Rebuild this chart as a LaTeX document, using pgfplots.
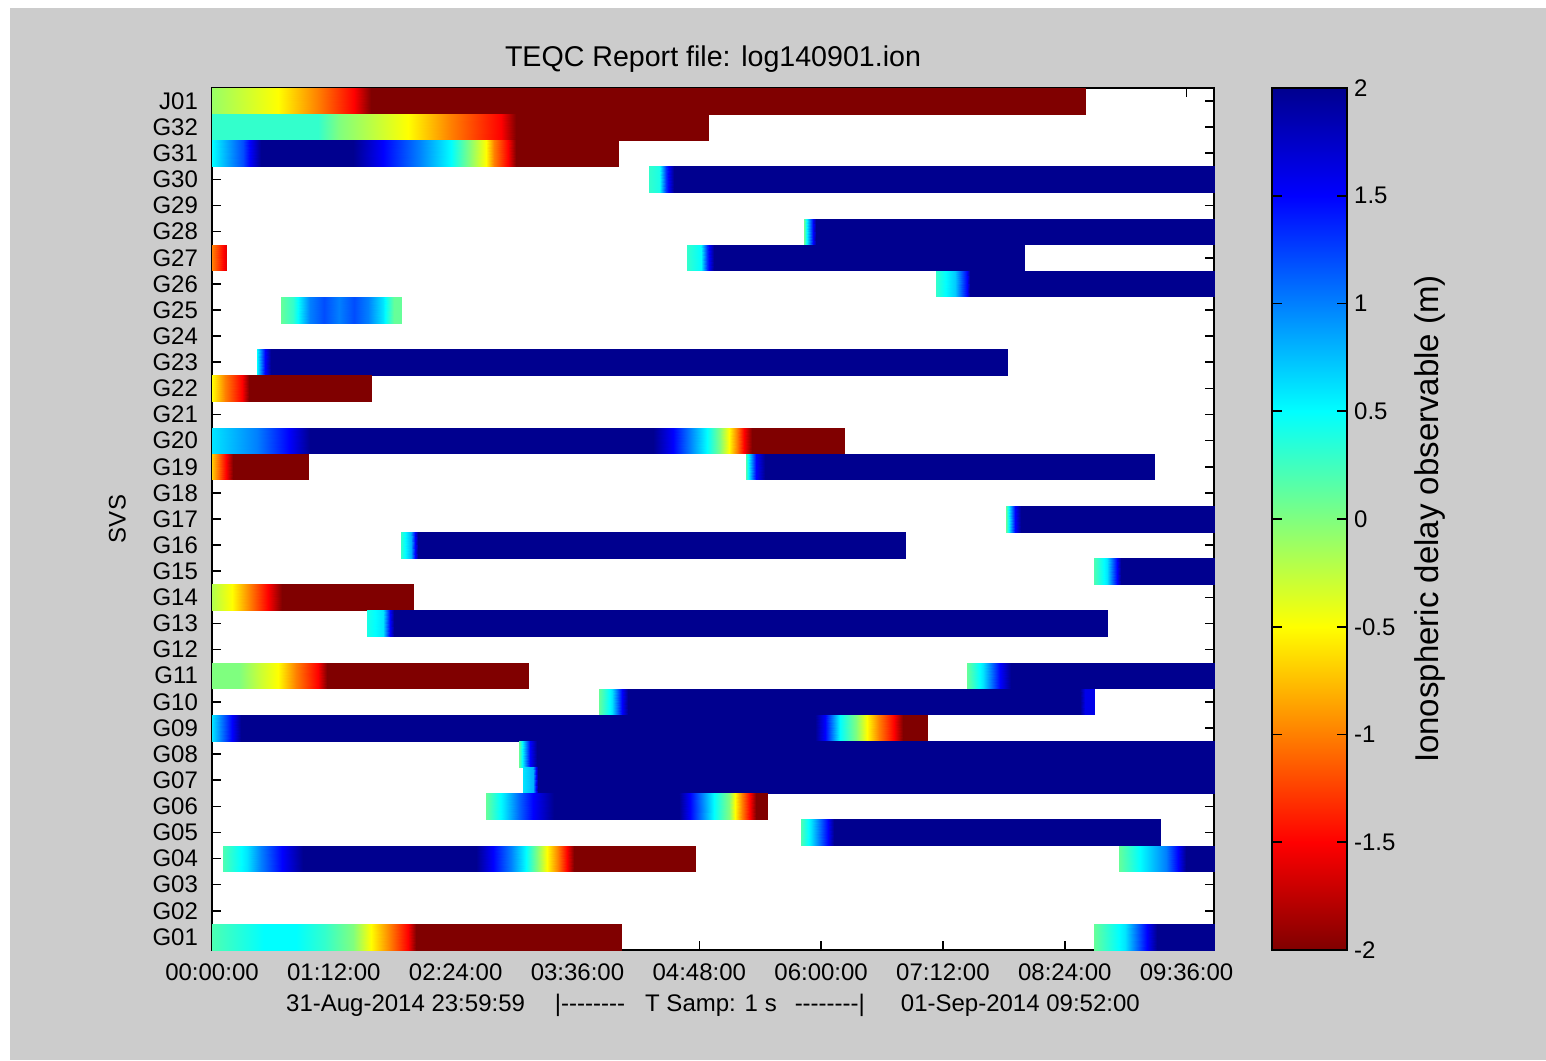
\documentclass[border=0pt]{standalone}
\usepackage{fontspec}
\setmainfont{Liberation Sans}
\usepackage{pgfplots}
\pgfplotsset{compat=1.18}
\definecolor{bggray}{RGB}{204,204,204}
\pgfplotsset{seg/.style={surf, shader=interp, mesh/rows=2, point meta=explicit}}
\newcommand\hy{\mbox{-}}
\begin{document}
\begin{tikzpicture}
\useasboundingbox (0,0) rectangle (773pt,530pt);
\fill[white] (0,0) rectangle (773pt,530pt);
\fill[bggray] (5pt,0) rectangle (773pt,526pt);
\begin{axis}[
  at={(106pt,55pt)}, anchor=south west,
  scale only axis, width=501pt, height=431pt,
  xmin=0, xmax=9.87, ymin=0.5, ymax=33.5,
  axis background/.style={fill=white},
  axis line style={black, line width=0.8pt},
  tick align=inside, major tick length=4.5pt,
  tick style={black, line width=0.8pt},
  xtick={0,1.2,2.4,3.6,4.8,6,7.2,8.4,9.6},
  xticklabels={00:00:00,01:12:00,02:24:00,03:36:00,04:48:00,06:00:00,07:12:00,08:24:00,09:36:00},
  ytick={1,2,3,4,5,6,7,8,9,10,11,12,13,14,15,16,17,18,19,20,21,22,23,24,25,26,27,28,29,30,31,32,33},
  yticklabels={G01,G02,G03,G04,G05,G06,G07,G08,G09,G10,G11,G12,G13,G14,G15,G16,G17,G18,G19,G20,G21,G22,G23,G24,G25,G26,G27,G28,G29,G30,G31,G32,J01},
  xtick pos=both, ytick pos=both, xticklabel pos=bottom, yticklabel pos=left,
  ticklabel style={font=\fontsize{12}{14}\selectfont},
  xticklabel style={yshift=-3.5pt},
  yticklabel style={xshift=-3.5pt},
  title={TEQC Report file: log140901.ion},
  title style={font=\fontsize{14.3}{16}\selectfont, at={(0.5,1)}, anchor=south, yshift=-2pt},
  xlabel={31-Aug-2014 23:59:59\hspace{15pt}|\hy\hy\hy\hy\hy\hy\hy\hy\hspace{10pt}T Samp: 1 s\hspace{9pt}\hy\hy\hy\hy\hy\hy\hy\hy|\hspace{18pt}01-Sep-2014 09:52:00},
  xlabel style={font=\fontsize{12}{14}\selectfont, yshift=0.5pt},
  ylabel={SVS},
  ylabel style={font=\fontsize{12}{14}\selectfont, yshift=6.5pt},
  colormap={jetr}{rgb255(0cm)=(128,0,0) rgb255(1cm)=(255,0,0) rgb255(3cm)=(255,255,0) rgb255(5cm)=(0,255,255) rgb255(7cm)=(0,0,255) rgb255(8cm)=(0,0,143)},
  point meta min=-2, point meta max=2,
  colorbar,
  colorbar/width=37.5pt,
  colorbar style={
    at={(parent axis.north east)}, anchor=north west, xshift=20.5pt,
    scale only axis, height=431pt,
    ytick={-2,-1.5,-1,-0.5,0,0.5,1,1.5,2},
    yticklabels={-2,-1.5,-1,-0.5,0,0.5,1,1.5,2},
    ytick pos=both, yticklabel pos=right,
    tick align=inside, major tick length=5pt,
    tick style={black, line width=0.8pt},
    axis line style={black, line width=0.8pt},
    ticklabel style={font=\fontsize{12}{14}\selectfont},
    ylabel={Ionospheric delay observable (m)},
    ylabel style={font=\fontsize{16.5}{18}\selectfont, yshift=-2.5pt},
  },
]
% J01
\addplot[seg] coordinates {(0,32.5)[-0.1] (0.65,32.5)[-0.5] (1.04,32.5)[-1] (1.40,32.5)[-1.5] (1.57,32.5)[-2] (8.60,32.5)[-2]
 (0,33.5)[-0.1] (0.65,33.5)[-0.5] (1.04,33.5)[-1] (1.40,33.5)[-1.5] (1.57,33.5)[-2] (8.60,33.5)[-2]};
% G32
\addplot[seg] coordinates {(0,31.5)[0.3] (1.04,31.5)[0.3] (1.25,31.5)[0] (1.93,31.5)[-0.5] (2.35,31.5)[-1] (2.85,31.5)[-1.5] (2.99,31.5)[-2] (4.89,31.5)[-2]
 (0,32.5)[0.3] (1.04,32.5)[0.3] (1.25,32.5)[0] (1.93,32.5)[-0.5] (2.35,32.5)[-1] (2.85,32.5)[-1.5] (2.99,32.5)[-2] (4.89,32.5)[-2]};
% G31
\addplot[seg] coordinates {(0,30.5)[0.5] (0.31,30.5)[1.2] (0.48,30.5)[2] (1.39,30.5)[2] (1.68,30.5)[1.5] (2.04,30.5)[1] (2.35,30.5)[0.5] (2.53,30.5)[0] (2.70,30.5)[-0.5] (2.78,30.5)[-1] (2.92,30.5)[-1.5] (2.99,30.5)[-2] (4.00,30.5)[-2]
 (0,31.5)[0.5] (0.31,31.5)[1.2] (0.48,31.5)[2] (1.39,31.5)[2] (1.68,31.5)[1.5] (2.04,31.5)[1] (2.35,31.5)[0.5] (2.53,31.5)[0] (2.70,31.5)[-0.5] (2.78,31.5)[-1] (2.92,31.5)[-1.5] (2.99,31.5)[-2] (4.00,31.5)[-2]};
% G30
\addplot[seg] coordinates {(4.30,29.5)[0.3] (4.40,29.5)[0.4] (4.47,29.5)[1.3] (4.55,29.5)[2] (9.87,29.5)[2]
 (4.30,30.5)[0.3] (4.40,30.5)[0.4] (4.47,30.5)[1.3] (4.55,30.5)[2] (9.87,30.5)[2]};
% G28
\addplot[seg] coordinates {(5.83,27.5)[0.1] (5.92,27.5)[1.5] (5.95,27.5)[2] (9.87,27.5)[2]
 (5.83,28.5)[0.1] (5.92,28.5)[1.5] (5.95,28.5)[2] (9.87,28.5)[2]};
% G27
\addplot[seg] coordinates {(0,26.5)[-1] (0.14,26.5)[-1.6]
 (0,27.5)[-1] (0.14,27.5)[-1.6]};
\addplot[seg] coordinates {(4.68,26.5)[0.3] (4.82,26.5)[0.5] (4.88,26.5)[1.3] (4.94,26.5)[2] (8.00,26.5)[2]
 (4.68,27.5)[0.3] (4.82,27.5)[0.5] (4.88,27.5)[1.3] (4.94,27.5)[2] (8.00,27.5)[2]};
% G26
\addplot[seg] coordinates {(7.13,25.5)[0.3] (7.32,25.5)[0.7] (7.44,25.5)[1.5] (7.47,25.5)[2] (9.87,25.5)[2]
 (7.13,26.5)[0.3] (7.32,26.5)[0.7] (7.44,26.5)[1.5] (7.47,26.5)[2] (9.87,26.5)[2]};
% G25
\addplot[seg] coordinates {(0.68,24.5)[0.1] (0.80,24.5)[0.3] (0.97,24.5)[1.0] (1.10,24.5)[1.2] (1.25,24.5)[1.0] (1.40,24.5)[1.2] (1.54,24.5)[1.0] (1.68,24.5)[0.6] (1.79,24.5)[0.1] (1.87,24.5)[0.1]
 (0.68,25.5)[0.1] (0.80,25.5)[0.3] (0.97,25.5)[1.0] (1.10,25.5)[1.2] (1.25,25.5)[1.0] (1.40,25.5)[1.2] (1.54,25.5)[1.0] (1.68,25.5)[0.6] (1.79,25.5)[0.1] (1.87,25.5)[0.1]};
% G23
\addplot[seg] coordinates {(0.44,22.5)[0.5] (0.52,22.5)[1.5] (0.58,22.5)[2] (7.84,22.5)[2]
 (0.44,23.5)[0.5] (0.52,23.5)[1.5] (0.58,23.5)[2] (7.84,23.5)[2]};
% G22
\addplot[seg] coordinates {(0,21.5)[-0.5] (0.13,21.5)[-1] (0.30,21.5)[-1.5] (0.36,21.5)[-2] (1.57,21.5)[-2]
 (0,22.5)[-0.5] (0.13,22.5)[-1] (0.30,22.5)[-1.5] (0.36,22.5)[-2] (1.57,22.5)[-2]};
% G20
\addplot[seg] coordinates {(0,19.5)[0.6] (0.44,19.5)[1.0] (0.76,19.5)[1.5] (0.97,19.5)[2] (4.34,19.5)[2] (4.54,19.5)[1.5] (4.71,19.5)[1.0] (4.88,19.5)[0.5] (5.00,19.5)[0] (5.09,19.5)[-0.5] (5.17,19.5)[-1] (5.24,19.5)[-1.5] (5.32,19.5)[-2] (6.23,19.5)[-2]
 (0,20.5)[0.6] (0.44,20.5)[1.0] (0.76,20.5)[1.5] (0.97,20.5)[2] (4.34,20.5)[2] (4.54,20.5)[1.5] (4.71,20.5)[1.0] (4.88,20.5)[0.5] (5.00,20.5)[0] (5.09,20.5)[-0.5] (5.17,20.5)[-1] (5.24,20.5)[-1.5] (5.32,20.5)[-2] (6.23,20.5)[-2]};
% G19
\addplot[seg] coordinates {(0,18.5)[-0.7] (0.14,18.5)[-1.5] (0.21,18.5)[-2] (0.95,18.5)[-2]
 (0,19.5)[-0.7] (0.14,19.5)[-1.5] (0.21,19.5)[-2] (0.95,19.5)[-2]};
\addplot[seg] coordinates {(5.26,18.5)[0.2] (5.36,18.5)[1.5] (5.45,18.5)[2] (9.28,18.5)[2]
 (5.26,19.5)[0.2] (5.36,19.5)[1.5] (5.45,19.5)[2] (9.28,19.5)[2]};
% G17
\addplot[seg] coordinates {(7.82,16.5)[0.1] (7.91,16.5)[1.5] (7.97,16.5)[2] (9.87,16.5)[2]
 (7.82,17.5)[0.1] (7.91,17.5)[1.5] (7.97,17.5)[2] (9.87,17.5)[2]};
% G16
\addplot[seg] coordinates {(1.86,15.5)[0.3] (1.96,15.5)[0.8] (2.00,15.5)[1.5] (2.03,15.5)[2] (6.83,15.5)[2]
 (1.86,16.5)[0.3] (1.96,16.5)[0.8] (2.00,16.5)[1.5] (2.03,16.5)[2] (6.83,16.5)[2]};
% G15
\addplot[seg] coordinates {(8.69,14.5)[0.2] (8.82,14.5)[0.6] (8.91,14.5)[1.5] (8.95,14.5)[2] (9.87,14.5)[2]
 (8.69,15.5)[0.2] (8.82,15.5)[0.6] (8.91,15.5)[1.5] (8.95,15.5)[2] (9.87,15.5)[2]};
% G14
\addplot[seg] coordinates {(0,13.5)[-0.2] (0.20,13.5)[-0.5] (0.37,13.5)[-1] (0.55,13.5)[-1.5] (0.69,13.5)[-2] (1.98,13.5)[-2]
 (0,14.5)[-0.2] (0.20,14.5)[-0.5] (0.37,14.5)[-1] (0.55,14.5)[-1.5] (0.69,14.5)[-2] (1.98,14.5)[-2]};
% G13
\addplot[seg] coordinates {(1.53,12.5)[0.4] (1.68,12.5)[0.6] (1.75,12.5)[1.5] (1.79,12.5)[2] (8.82,12.5)[2]
 (1.53,13.5)[0.4] (1.68,13.5)[0.6] (1.75,13.5)[1.5] (1.79,13.5)[2] (8.82,13.5)[2]};
% G11
\addplot[seg] coordinates {(0,10.5)[0] (0.27,10.5)[0] (0.48,10.5)[-0.3] (0.65,10.5)[-0.5] (0.83,10.5)[-1] (1.04,10.5)[-1.5] (1.13,10.5)[-2] (3.12,10.5)[-2]
 (0,11.5)[0] (0.27,11.5)[0] (0.48,11.5)[-0.3] (0.65,11.5)[-0.5] (0.83,11.5)[-1] (1.04,11.5)[-1.5] (1.13,11.5)[-2] (3.12,11.5)[-2]};
\addplot[seg] coordinates {(7.44,10.5)[0.1] (7.59,10.5)[0.6] (7.76,10.5)[1.5] (7.87,10.5)[2] (9.87,10.5)[2]
 (7.44,11.5)[0.1] (7.59,11.5)[0.6] (7.76,11.5)[1.5] (7.87,11.5)[2] (9.87,11.5)[2]};
% G10
\addplot[seg] coordinates {(3.81,9.5)[0.1] (3.94,9.5)[0.6] (4.04,9.5)[1.5] (4.10,9.5)[2] (8.55,9.5)[2] (8.60,9.5)[1.6] (8.69,9.5)[1.6]
 (3.81,10.5)[0.1] (3.94,10.5)[0.6] (4.04,10.5)[1.5] (4.10,10.5)[2] (8.55,10.5)[2] (8.60,10.5)[1.6] (8.69,10.5)[1.6]};
% G09
\addplot[seg] coordinates {(0,8.5)[0.6] (0.20,8.5)[1.5] (0.29,8.5)[2] (5.94,8.5)[2] (6.04,8.5)[1.5] (6.19,8.5)[0.5] (6.34,8.5)[0] (6.45,8.5)[-0.5] (6.57,8.5)[-1] (6.72,8.5)[-1.5] (6.81,8.5)[-2] (7.05,8.5)[-2]
 (0,9.5)[0.6] (0.20,9.5)[1.5] (0.29,9.5)[2] (5.94,9.5)[2] (6.04,9.5)[1.5] (6.19,9.5)[0.5] (6.34,9.5)[0] (6.45,9.5)[-0.5] (6.57,9.5)[-1] (6.72,9.5)[-1.5] (6.81,9.5)[-2] (7.05,9.5)[-2]};
% G08
\addplot[seg] coordinates {(3.02,7.5)[0.1] (3.13,7.5)[1.5] (3.20,7.5)[2] (9.87,7.5)[2]
 (3.02,8.5)[0.1] (3.13,8.5)[1.5] (3.20,8.5)[2] (9.87,8.5)[2]};
% G07
\addplot[seg] coordinates {(3.06,6.5)[0.6] (3.16,6.5)[0.8] (3.21,6.5)[2] (9.87,6.5)[2]
 (3.06,7.5)[0.6] (3.16,7.5)[0.8] (3.21,7.5)[2] (9.87,7.5)[2]};
% G06
\addplot[seg] coordinates {(2.70,5.5)[0.1] (2.88,5.5)[0.6] (3.02,5.5)[1.1] (3.16,5.5)[1.5] (3.37,5.5)[2] (4.60,5.5)[2] (4.71,5.5)[1.5] (4.94,5.5)[0.5] (5.09,5.5)[0] (5.15,5.5)[-0.5] (5.22,5.5)[-1] (5.30,5.5)[-1.5] (5.36,5.5)[-2] (5.47,5.5)[-2]
 (2.70,6.5)[0.1] (2.88,6.5)[0.6] (3.02,6.5)[1.1] (3.16,6.5)[1.5] (3.37,6.5)[2] (4.60,6.5)[2] (4.71,6.5)[1.5] (4.94,6.5)[0.5] (5.09,6.5)[0] (5.15,6.5)[-0.5] (5.22,6.5)[-1] (5.30,6.5)[-1.5] (5.36,6.5)[-2] (5.47,6.5)[-2]};
% G05
\addplot[seg] coordinates {(5.80,4.5)[0.2] (5.90,4.5)[0.6] (6.07,4.5)[1.5] (6.13,4.5)[2] (9.34,4.5)[2]
 (5.80,5.5)[0.2] (5.90,5.5)[0.6] (6.07,5.5)[1.5] (6.13,5.5)[2] (9.34,5.5)[2]};
% G04
\addplot[seg] coordinates {(0.11,3.5)[0.2] (0.34,3.5)[0.6] (0.48,3.5)[1.0] (0.69,3.5)[1.5] (0.90,3.5)[2] (2.60,3.5)[2] (2.77,3.5)[1.5] (2.95,3.5)[1.0] (3.09,3.5)[0.5] (3.20,3.5)[0] (3.30,3.5)[-0.5] (3.41,3.5)[-1] (3.50,3.5)[-1.5] (3.57,3.5)[-2] (4.76,3.5)[-2]
 (0.11,4.5)[0.2] (0.34,4.5)[0.6] (0.48,4.5)[1.0] (0.69,4.5)[1.5] (0.90,4.5)[2] (2.60,4.5)[2] (2.77,4.5)[1.5] (2.95,4.5)[1.0] (3.09,4.5)[0.5] (3.20,4.5)[0] (3.30,4.5)[-0.5] (3.41,4.5)[-1] (3.50,4.5)[-1.5] (3.57,4.5)[-2] (4.76,4.5)[-2]};
\addplot[seg] coordinates {(8.93,3.5)[0.1] (9.14,3.5)[0.5] (9.40,3.5)[1.0] (9.52,3.5)[1.5] (9.59,3.5)[2] (9.87,3.5)[2]
 (8.93,4.5)[0.1] (9.14,4.5)[0.5] (9.40,4.5)[1.0] (9.52,4.5)[1.5] (9.59,4.5)[2] (9.87,4.5)[2]};
% G01
\addplot[seg] coordinates {(0,0.5)[0.2] (0.51,0.5)[0.5] (0.83,0.5)[0.5] (1.11,0.5)[0.3] (1.39,0.5)[0] (1.57,0.5)[-0.5] (1.75,0.5)[-1] (1.93,0.5)[-1.5] (2.01,0.5)[-2] (4.03,0.5)[-2]
 (0,1.5)[0.2] (0.51,1.5)[0.5] (0.83,1.5)[0.5] (1.11,1.5)[0.3] (1.39,1.5)[0] (1.57,1.5)[-0.5] (1.75,1.5)[-1] (1.93,1.5)[-1.5] (2.01,1.5)[-2] (4.03,1.5)[-2]};
\addplot[seg] coordinates {(8.69,0.5)[0.1] (8.99,0.5)[0.6] (9.21,0.5)[1.5] (9.31,0.5)[2] (9.87,0.5)[2]
 (8.69,1.5)[0.1] (8.99,1.5)[0.6] (9.21,1.5)[1.5] (9.31,1.5)[2] (9.87,1.5)[2]};
\end{axis}
\end{tikzpicture}
\end{document}
